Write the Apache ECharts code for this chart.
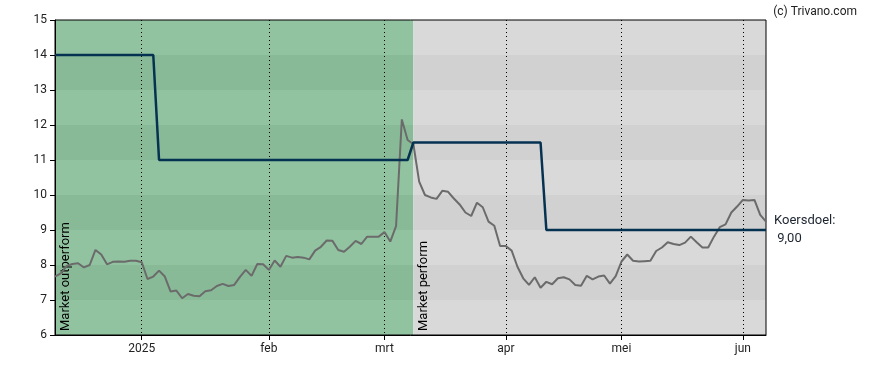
<!DOCTYPE html>
<html>
<head>
<meta charset="utf-8">
<script src="https://cdn.jsdelivr.net/npm/echarts@6/dist/echarts.min.js"></script>
<style>html,body{margin:0;padding:0;background:#fff;}#c{width:888px;height:370px;}</style>
</head>
<body>
<div id="c"></div>
<script>
// Trading days (categories)
const dates = [
 '2024-12-09','2024-12-10','2024-12-11','2024-12-12','2024-12-13','2024-12-16','2024-12-17','2024-12-18','2024-12-19','2024-12-20','2024-12-23','2024-12-24','2024-12-27','2024-12-30','2024-12-31',
 '2025-01-02','2025-01-03','2025-01-06','2025-01-07','2025-01-08','2025-01-09','2025-01-10','2025-01-13','2025-01-14','2025-01-15','2025-01-16','2025-01-17','2025-01-20','2025-01-21','2025-01-22','2025-01-23','2025-01-24','2025-01-27','2025-01-28','2025-01-29','2025-01-30','2025-01-31',
 '2025-02-03','2025-02-04','2025-02-05','2025-02-06','2025-02-07','2025-02-10','2025-02-11','2025-02-12','2025-02-13','2025-02-14','2025-02-17','2025-02-18','2025-02-19','2025-02-20','2025-02-21','2025-02-24','2025-02-25','2025-02-26','2025-02-27','2025-02-28',
 '2025-03-03','2025-03-04','2025-03-05','2025-03-06','2025-03-07','2025-03-10','2025-03-11','2025-03-12','2025-03-13','2025-03-14','2025-03-17','2025-03-18','2025-03-19','2025-03-20','2025-03-21','2025-03-24','2025-03-25','2025-03-26','2025-03-27','2025-03-28','2025-03-31',
 '2025-04-01','2025-04-02','2025-04-03','2025-04-04','2025-04-07','2025-04-08','2025-04-09','2025-04-10','2025-04-11','2025-04-14','2025-04-15','2025-04-16','2025-04-17','2025-04-22','2025-04-23','2025-04-24','2025-04-25','2025-04-28','2025-04-29','2025-04-30',
 '2025-05-02','2025-05-05','2025-05-06','2025-05-07','2025-05-08','2025-05-09','2025-05-12','2025-05-13','2025-05-14','2025-05-15','2025-05-16','2025-05-19','2025-05-20','2025-05-21','2025-05-22','2025-05-23','2025-05-26','2025-05-27','2025-05-28','2025-05-29','2025-05-30',
 '2025-06-02','2025-06-03','2025-06-04','2025-06-05','2025-06-06'
];

// Share price
const price = [
 7.67,7.76,7.97,8.03,8.05,7.93,8.00,8.43,8.30,8.02,8.09,8.10,8.09,8.12,8.12,
 8.08,7.60,7.67,7.84,7.67,7.24,7.27,7.05,7.17,7.12,7.11,7.25,7.28,7.40,7.46,7.40,7.43,7.66,7.86,7.69,8.03,8.02,
 7.86,8.13,7.95,8.26,8.21,8.23,8.21,8.16,8.41,8.52,8.70,8.69,8.43,8.38,8.52,8.69,8.60,8.81,8.81,8.81,
 8.94,8.67,9.11,12.16,11.57,11.45,10.38,10.00,9.93,9.89,10.12,10.09,9.90,9.73,9.50,9.40,9.78,9.65,9.24,9.12,8.54,
 8.54,8.41,7.95,7.62,7.43,7.65,7.35,7.52,7.45,7.62,7.65,7.59,7.43,7.41,7.69,7.59,7.67,7.70,7.47,7.68,
 8.10,8.30,8.12,8.10,8.11,8.12,8.40,8.50,8.65,8.60,8.57,8.64,8.81,8.65,8.50,8.50,8.81,9.08,9.16,9.50,9.67,
 9.86,9.84,9.86,9.43,9.24
];

// Target price (koersdoel) changes: [first date, value]
const targetSteps = [
 ['2024-12-09', 14],
 ['2025-01-07', 11],
 ['2025-03-10', 11.5],
 ['2025-04-10', 9]
];

// Analyst rating periods
const ratings = [
 { from: '2024-12-09', label: 'Market outperform' },
 { from: '2025-03-10', label: 'Market perform' }
];

// Month tick labels
const monthTicks = {
 '2025-01-02': '2025', '2025-02-03': 'feb', '2025-03-03': 'mrt',
 '2025-04-01': 'apr', '2025-05-02': 'mei', '2025-06-02': 'jun'
};

const yTicks = [6, 7, 8, 9, 10, 11, 12, 13, 14, 15];
const targetLabel = 'Koersdoel:';
const targetValueText = '9,00';

// build target series per date
const target = dates.map(d => {
  let v = null;
  for (const s of targetSteps) if (d >= s[0]) v = s[1];
  return v;
});

// background bands
const palettes = [
  { light: '#92c3a1', dark: '#89ba98' },
  { light: '#d9d9d9', dark: '#d1d1d1' }
];
const bandAreas = [];
ratings.forEach((r, i) => {
  const start = r.from;
  const end = i + 1 < ratings.length ? ratings[i + 1].from : dates[dates.length - 1];
  const pal = palettes[i];
  for (let k = 0; k < yTicks.length - 1; k++) {
    const lo = yTicks[k], hi = yTicks[k + 1];
    const dark = (lo % 2 === 1);
    bandAreas.push([
      { xAxis: start, yAxis: lo, itemStyle: { color: dark ? pal.dark : pal.light } },
      { xAxis: end, yAxis: hi }
    ]);
  }
});

const chart = echarts.init(document.getElementById('c'), null, { renderer: 'canvas' });
const font = 'Roboto, "DejaVu Sans", sans-serif';
chart.setOption({
  animation: false,
  title: {
    text: '(c) Trivano.com', right: 26, top: 1,
    textStyle: { fontSize: 12, fontWeight: 'normal', color: '#222', fontFamily: font }
  },
  grid: { left: 55, right: 122, top: 20, bottom: 35, show: true, borderColor: '#000', borderWidth: 1, backgroundColor: 'transparent', z: 5 },
  xAxis: {
    type: 'category', data: dates, boundaryGap: false, z: 4,
    axisLine: { lineStyle: { color: '#000', width: 1 } },
    axisTick: { show: true, length: 5, lineStyle: { color: '#000' }, interval: (i, v) => !!monthTicks[v] },
    axisLabel: { interval: (i, v) => !!monthTicks[v], formatter: v => monthTicks[v] || '', color: '#222', fontSize: 12, fontFamily: font, margin: 8 },
    splitLine: { show: true, interval: (i, v) => !!monthTicks[v], lineStyle: { color: '#000', type: [1, 3], width: 1 } }
  },
  yAxis: {
    type: 'value', min: 6, max: 15, interval: 1, z: 4,
    axisLine: { show: true, lineStyle: { color: '#000' } },
    axisTick: { show: true, length: 5, lineStyle: { color: '#000' } },
    axisLabel: { color: '#222', fontSize: 12, fontFamily: font, margin: 8 },
    splitLine: { show: false }
  },
  series: [
    {
      type: 'line', data: [], z: 1, silent: true,
      markArea: { silent: true, data: bandAreas, itemStyle: { opacity: 1 } }
    },
    {
      type: 'line', data: price, z: 6, symbol: 'none', silent: true,
      lineStyle: { color: '#6b6b6b', width: 2 },
      markLine: {
        silent: true, symbol: 'none', animation: false,
        lineStyle: { color: 'rgba(0,0,0,0)', width: 0 },
        label: { show: true, position: 'insideStartBottom', formatter: p => p.name, color: '#000', fontSize: 13, fontFamily: font, distance: 4 },
        data: ratings.map(r => ({ xAxis: r.from, name: r.label }))
      }
    },
    {
      type: 'line', data: target, z: 7, symbol: 'none', silent: true,
      lineStyle: { color: '#063251', width: 2.5 },
      endLabel: {
        show: true, distance: 8, formatter: targetLabel + '\n ' + targetValueText,
        color: '#1c2430', fontSize: 13, fontFamily: font, lineHeight: 18, align: 'left'
      }
    }
  ]
});
</script>
</body>
</html>
